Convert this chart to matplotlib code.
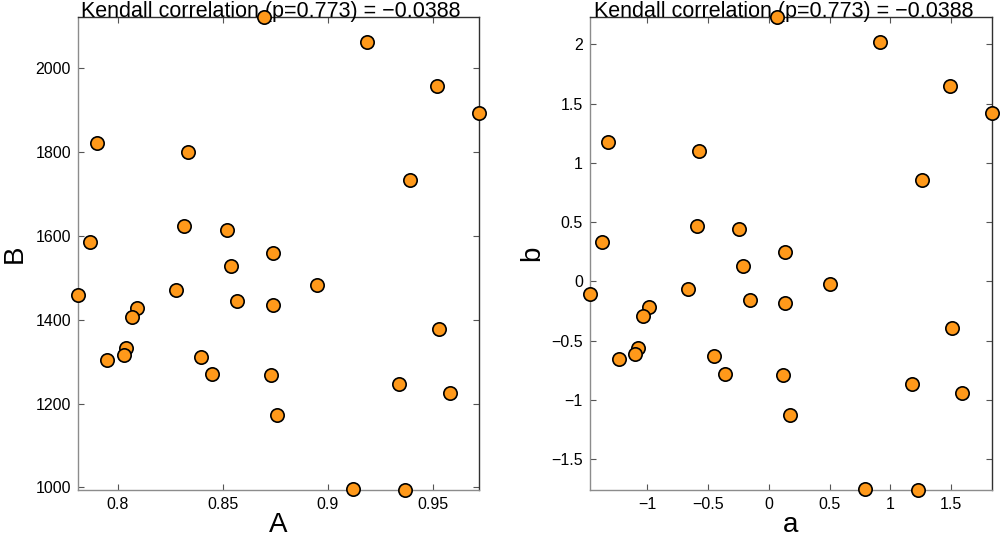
import numpy as np
import matplotlib
matplotlib.use("Agg")
import matplotlib.pyplot as plt

plt.rcParams['font.family'] = ['Liberation Sans', 'DejaVu Sans']

# raw values (left panel)
A = [0.8698, 0.9188, 0.9521, 0.9720, 0.7900, 0.8332, 0.9389, 0.8317, 0.8519, 0.7867,
     0.8739, 0.8540, 0.7810, 0.8279, 0.8568, 0.8739, 0.8950, 0.8089, 0.8067, 0.8038,
     0.8027, 0.7948, 0.8395, 0.8447, 0.8728, 0.8758, 0.9529, 0.9337, 0.9581, 0.9120, 0.9369]
B = [2121, 2062, 1958, 1893, 1822, 1801, 1732, 1624, 1615, 1585,
     1560, 1527, 1458, 1470, 1444, 1436, 1482, 1428, 1407, 1332,
     1316, 1304, 1311, 1270, 1267, 1173, 1378, 1247, 1226, 997, 994]

# standardised values (right panel)
a = [0.064, 0.913, 1.491, 1.840, -1.323, -0.578, 1.260, -0.591, -0.250, -1.378,
     0.132, -0.211, -1.476, -0.663, -0.159, 0.132, 0.500, -0.990, -1.034, -1.081,
     -1.100, -1.238, -0.450, -0.365, 0.116, 0.171, 1.505, 1.177, 1.592, 0.795, 1.229]
b = [2.227, 2.019, 1.651, 1.422, 1.172, 1.096, 0.852, 0.466, 0.438, 0.332,
     0.248, 0.126, -0.109, -0.067, -0.160, -0.185, -0.025, -0.219, -0.291, -0.558,
     -0.614, -0.657, -0.631, -0.777, -0.788, -1.126, -0.396, -0.865, -0.939, -1.747, -1.759]

title = "Kendall correlation (p=0.773) = \u22120.0388"

left_xticks = [0.8, 0.85, 0.9, 0.95]
left_yticks = [1000, 1200, 1400, 1600, 1800, 2000]
right_xticks = [-1, -0.5, 0, 0.5, 1, 1.5]
right_yticks = [-1.5, -1, -0.5, 0, 0.5, 1, 1.5, 2]

fig = plt.figure(figsize=(10, 5.39), dpi=100)
ax1 = fig.add_axes([0.078, 0.0909, 0.401, 0.877])
ax2 = fig.add_axes([0.5897, 0.0909, 0.4026, 0.877])


def style(ax, x, y, xt, yt, xl, yl, ylab_x):
    ax.plot(x, y, 'o', ms=9.6, mfc='#ff991a', mec='black', mew=1.2,
            clip_on=False, zorder=5)
    ax.set_xlim(min(x), max(x))
    ax.set_ylim(min(y), max(y))
    ax.set_xticks(xt)
    ax.set_yticks(yt)
    ax.set_xticklabels([f"{v:g}".replace('-', '\u2212') for v in xt])
    ax.set_yticklabels([f"{v:g}".replace('-', '\u2212') for v in yt])
    ax.tick_params(direction='in', length=4, width=0.8, colors='#555555',
                   labelcolor='black', labelsize=11.5, pad=5,
                   top=True, right=True)
    ax.spines['left'].set_color('#8c8c8c')
    ax.spines['bottom'].set_color('#8c8c8c')
    ax.spines['top'].set_color('#303030')
    ax.spines['right'].set_color('#303030')
    for s in ax.spines.values():
        s.set_linewidth(1.0)
    ax.set_title(title, fontsize=15.5, pad=0.5, x=0.481)
    ax.set_xlabel(xl, fontsize=20)
    ax.xaxis.label.set_va('baseline')
    ax.xaxis.set_label_coords(0.5, -0.088)
    ax.set_ylabel(yl, fontsize=20)
    ax.yaxis.label.set_va('baseline')
    ax.yaxis.set_label_coords(ylab_x, 0.5)


style(ax1, A, B, left_xticks, left_yticks, 'A', 'B', -0.14)
style(ax2, a, b, right_xticks, right_yticks, 'a', 'b', -0.126)

fig.savefig('out.png', dpi=100)
